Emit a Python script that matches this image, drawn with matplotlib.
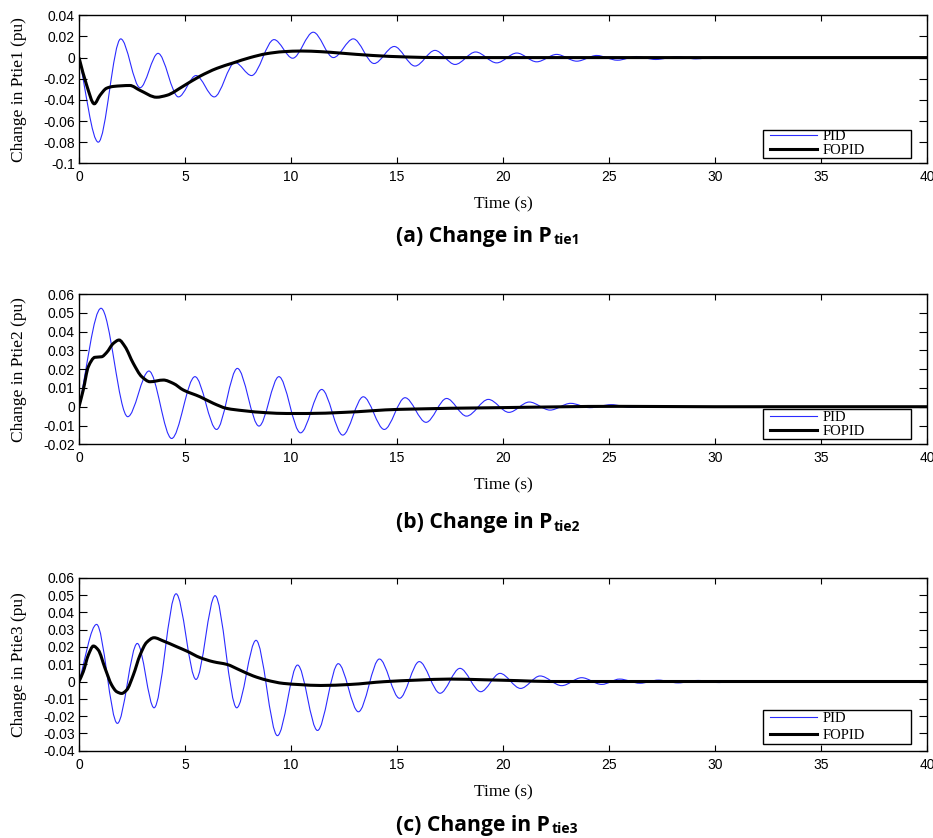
import numpy as np
import matplotlib
matplotlib.use("Agg")
import matplotlib.pyplot as plt
from matplotlib.path import Path
from matplotlib.patches import PathPatch, Rectangle
from matplotlib.lines import Line2D

# ---- tie-line power deviation, read at peaks / knees of each response ----
pid1_t = [0, 0.91, 1.97, 2.88, 3.73, 4.69, 5.52, 6.38, 7.36, 8.14, 9.2, 10.08, 11.05,
          12.0, 12.94, 13.92, 14.87, 15.85, 16.79, 17.74, 18.71, 19.7, 20.65, 21.59,
          22.53, 23.48, 24.42, 25.4, 26.3, 27.2, 28.2, 29.1, 30.0, 31.0, 31.9, 32.8, 34, 40]
pid1_y = [0, -0.080, 0.0177, -0.0285, 0.004, -0.0372, -0.017, -0.0372, -0.0047, -0.017,
          0.017, -0.0006, 0.024, 0.0, 0.0177, -0.0056, 0.0105, -0.008, 0.0068, -0.0065,
          0.0053, -0.005, 0.0043, -0.004, 0.003, -0.0034, 0.002, -0.0025, 0.001, -0.0018,
          0.0008, -0.0012, 0.0005, -0.0008, 0.0003, -0.0005, 0, 0]
fopid1_t = [0, 0.36, 0.72, 0.99, 1.3, 1.62, 2.4, 2.88, 3.66, 4.14, 4.92, 5.7, 6.5, 7.28,
            8.07, 8.85, 9.64, 10.5, 11.4, 12.3, 13.85, 15.4, 17, 20, 30, 40]
fopid1_y = [0, -0.026, -0.0437, -0.0357, -0.029, -0.0273, -0.0264, -0.031, -0.0375,
            -0.0357, -0.027, -0.0177, -0.0102, -0.005, 0, 0.0037, 0.0056, 0.0062, 0.0056,
            0.0043, 0.002, 0.0006, 0, 0, 0, 0]

pid2_t = [0, 1.04, 2.3, 3.3, 4.37, 5.47, 6.49, 7.47, 8.49, 9.43, 10.45, 11.45, 12.44,
          13.41, 14.4, 15.38, 16.37, 17.34, 18.28, 19.31, 20.28, 21.24, 22.22, 23.19,
          24.1, 25.11, 26.0, 27.0, 28, 40]
pid2_y = [0, 0.0524, -0.0053, 0.019, -0.0169, 0.016, -0.0121, 0.0204, -0.0103, 0.016,
          -0.0139, 0.0092, -0.0151, 0.0053, -0.0121, 0.0048, -0.0083, 0.0044, -0.005,
          0.0039, -0.003, 0.0025, -0.0018, 0.0018, -0.0005, 0.0011, -0.0003, 0.0005, 0, 0]
fopid2_t = [0, 0.2, 0.44, 0.75, 1.07, 1.3, 1.62, 1.89, 2.17, 2.56, 2.96, 3.35, 3.98,
            4.45, 4.92, 5.71, 6.34, 6.97, 7.75, 8.85, 9.8, 10.74, 12.5, 15.1, 19.8,
            25.4, 30, 40]
fopid2_y = [0, 0.0089, 0.0213, 0.0263, 0.0266, 0.0288, 0.0337, 0.0355, 0.032, 0.0231,
            0.016, 0.0133, 0.0142, 0.0124, 0.0089, 0.0053, 0.0018, -0.0009, -0.0021,
            -0.0032, -0.0036, -0.0036, -0.003, -0.0014, -0.0005, 0.0002, 0, 0]

pid3_t = [0, 0.83, 1.81, 2.75, 3.54, 4.58, 5.52, 6.42, 7.44, 8.35, 9.36, 10.31, 11.25,
          12.23, 13.18, 14.17, 15.12, 16.05, 17.03, 17.97, 18.95, 19.86, 20.83, 21.75,
          22.77, 23.71, 24.66, 25.5, 26.46, 27.33, 28.26, 29.2, 30.2, 31.2, 32.2, 33.2,
          34.2, 35.2, 36.2, 37.2, 38.2, 39.2, 40]
pid3_y = [0, 0.033, -0.0242, 0.022, -0.0152, 0.0507, 0.0012, 0.0496, -0.0152, 0.0238,
          -0.0313, 0.0095, -0.0283, 0.0103, -0.0175, 0.013, -0.0097, 0.0115, -0.0068,
          0.0076, -0.0059, 0.0047, -0.004, 0.0032, -0.0024, 0.0022, -0.0017, 0.0014,
          -0.001, 0.0008, -0.0008, 0.0006, -0.0006, 0.0005, -0.0005, 0.0004, -0.0004,
          0.0004, -0.0003, 0.0003, -0.0003, 0.0002, 0]
fopid3_t = [0, 0.2, 0.44, 0.68, 0.91, 1.23, 1.54, 1.78, 2.01, 2.25, 2.56, 2.88, 3.19,
            3.54, 3.98, 4.61, 5.08, 5.71, 6.34, 6.97, 7.59, 8.22, 8.85, 9.64, 10.42,
            11.4, 12.8, 14.4, 15.95, 17.5, 19.1, 20.7, 22.2, 30, 40]
fopid3_y = [0, 0.0056, 0.0153, 0.0205, 0.0182, 0.0076, -0.002, -0.0059, -0.0069,
            -0.0049, 0.0037, 0.0153, 0.0226, 0.0253, 0.0234, 0.0201, 0.0176, 0.0138,
            0.0114, 0.0099, 0.0066, 0.0032, 0.0008, -0.0011, -0.0018, -0.0023, -0.0017,
            -0.0001, 0.0008, 0.0014, 0.001, 0.0005, 0, 0, 0]

yticks = [
    [0.04, 0.02, 0, -0.02, -0.04, -0.06, -0.08, -0.1],
    [0.06, 0.05, 0.04, 0.03, 0.02, 0.01, 0, -0.01, -0.02],
    [0.06, 0.05, 0.04, 0.03, 0.02, 0.01, 0, -0.01, -0.02, -0.03, -0.04],
]
ylabels = ["Change in Ptie1 (pu)", "Change in Ptie2 (pu)", "Change in Ptie3 (pu)"]
captions = [("(a) Change in P", "tie1"), ("(b) Change in P", "tie2"), ("(c) Change in P", "tie3")]
xticks = [0, 5, 10, 15, 20, 25, 30, 35, 40]

PID_COLOR = "#2b2bff"


def smooth_path(t, y):
    """Monotone cubic (Fritsch-Carlson) curve through the points, as Bezier segments."""
    t = np.asarray(t, float)
    y = np.asarray(y, float)
    h = np.diff(t)
    d = np.diff(y) / h
    m = np.zeros_like(y)
    m[0], m[-1] = d[0], d[-1]
    for k in range(1, len(y) - 1):
        if d[k - 1] * d[k] > 0:
            w1 = 2 * h[k] + h[k - 1]
            w2 = h[k] + 2 * h[k - 1]
            m[k] = (w1 + w2) / (w1 / d[k - 1] + w2 / d[k])
    verts = [(t[0], y[0])]
    codes = [Path.MOVETO]
    for k in range(len(h)):
        verts += [(t[k] + h[k] / 3, y[k] + m[k] * h[k] / 3),
                  (t[k + 1] - h[k] / 3, y[k + 1] - m[k + 1] * h[k] / 3),
                  (t[k + 1], y[k + 1])]
        codes += [Path.CURVE4] * 3
    return Path(verts, codes)


fig = plt.figure(figsize=(9.33, 8.38), dpi=100)
W, H = 933, 838
# axes boxes in pixels: left, top, right, bottom
boxes = [(79, 15.3, 927, 163.3), (79, 294, 927, 444.3), (79, 577.7, 927, 750.7)]
# legend boxes in pixels: left, top, right, bottom
leg_boxes = [(763, 129.7, 911, 157.7), (763, 409.3, 911, 439.3), (763, 710, 911, 744)]
leg_spacing = [0.08, 0.08, 0.22]
series = [(pid1_t, pid1_y, fopid1_t, fopid1_y),
          (pid2_t, pid2_y, fopid2_t, fopid2_y),
          (pid3_t, pid3_y, fopid3_t, fopid3_y)]
caption_base = [241.7, 528, 830.5]

for i in range(3):
    l, tp, r, b = boxes[i]
    aw, ah = r - l, b - tp
    ax = fig.add_axes([l / W, 1 - b / H, aw / W, ah / H])
    pt, py, ft, fy = series[i]
    ax.add_patch(PathPatch(smooth_path(pt, py), fill=False, ec=PID_COLOR, lw=0.8))
    ax.add_patch(PathPatch(smooth_path(ft, fy), fill=False, ec="black", lw=2.2))

    ax.set_xlim(0, 40)
    ax.set_ylim(min(yticks[i]), max(yticks[i]))
    ax.set_xticks(xticks)
    ax.set_xticklabels([str(v) for v in xticks], fontfamily="Liberation Sans", fontsize=10)
    ax.set_yticks(yticks[i])
    ax.set_yticklabels([("%g" % v) for v in yticks[i]], fontfamily="Liberation Sans", fontsize=10)
    ax.tick_params(direction="in", top=True, right=True, width=0.8)
    ax.tick_params(axis="x", length=4.5, pad=5)
    ax.tick_params(axis="y", length=6, pad=3)
    for sp in ax.spines.values():
        sp.set_linewidth(1.0)

    ax.set_xlabel("Time (s)", fontfamily="Liberation Serif", fontsize=12.5, labelpad=9)
    ax.set_ylabel(ylabels[i], fontfamily="Liberation Serif", fontsize=12.5, labelpad=11.5)

    # legend box (wide frame with the entries on its left side)
    ll, lt, lr, lb = leg_boxes[i]
    ax.add_patch(Rectangle(((ll - l) / aw, (b - lb) / ah), (lr - ll) / aw, (lb - lt) / ah,
                           transform=ax.transAxes, fc="white", ec="black", lw=1.0, zorder=4))
    handles = [Line2D([], [], color=PID_COLOR, lw=0.8), Line2D([], [], color="black", lw=2.2)]
    leg = ax.legend(handles, ["PID", "FOPID"], loc="center left",
                    bbox_to_anchor=((ll - l + 7) / aw, (b - (lt + lb) / 2) / ah),
                    prop={"family": "Liberation Serif", "size": 10.5},
                    frameon=False, borderpad=0, labelspacing=leg_spacing[i],
                    handlelength=3.2, handletextpad=0.4, borderaxespad=0)
    leg.set_zorder(5)

    main, sub = captions[i]
    txt = fig.text(396 / W, 1 - caption_base[i] / H, main, fontfamily="Open Sans",
                   fontweight="bold", fontsize=15.2, va="baseline", ha="left")
    ax.annotate(sub, xy=(1, 0), xycoords=txt, xytext=(1, -0.5), textcoords="offset points",
                fontfamily="Open Sans", fontweight="bold", fontsize=10, va="bottom", ha="left",
                annotation_clip=False)

fig.savefig("out.png", dpi=100)
